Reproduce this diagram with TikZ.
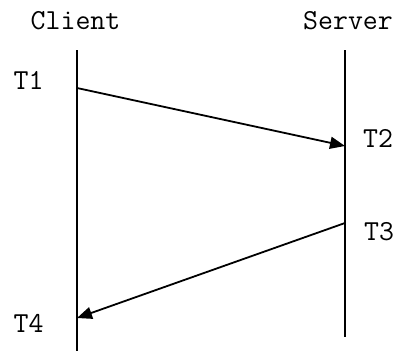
\documentclass[tikz,border=0pt]{standalone}
\usetikzlibrary{arrows.meta}

\begin{document}
\begin{tikzpicture}[x=1pt, y=-1pt, font=\ttfamily\fontsize{29}{32}\selectfont]
    % Define styles for lifelines and messages
    \tikzstyle{label} = [anchor=base, inner sep=0pt]
    \tikzstyle{lifeline} = [line width=1.8pt]
    \tikzstyle{message} = [line width=1.8pt, -{Triangle[length=15pt,width=12pt]}]

    \useasboundingbox (0, 0) rectangle (396, 351);

    % headers
    \node (client) [label] at (75.5, 29) {Client};
    \node (server) [label] at (348, 29) {Server};

    % lifeline ends
    \coordinate (clienttop) at (77, 50);
    \coordinate (clientbottom) at (77, 351);
    \coordinate (servertop) at (345, 50);
    \coordinate (serverbottom) at (345, 337);

    % time stamps
    \coordinate (sendone) at (77, 88);
    \coordinate (recvone) at (345, 146);
    \coordinate (sendtwo) at (345, 223);
    \coordinate (recvtwo) at (77, 318);
    \node (tone) [label] at (28.5, 89) {T1};
    \node (ttwo) [label] at (378, 147) {T2};
    \node (tthree) [label] at (379, 240) {T3};
    \node (tfour) [label] at (28.5, 332) {T4};

    % Lines
    \draw [lifeline] (clienttop) -- (clientbottom);
    \draw [lifeline] (servertop) -- (serverbottom);
    \draw [message] (sendone) -- (recvone);
    \draw [message] (sendtwo) -- (recvtwo);
\end{tikzpicture}
\end{document}
